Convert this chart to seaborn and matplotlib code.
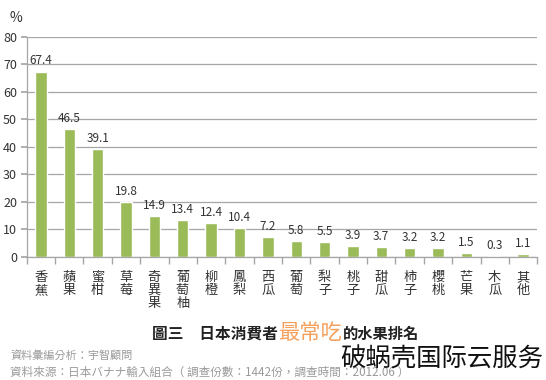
import matplotlib
matplotlib.use("Agg")
import matplotlib.pyplot as plt
import seaborn as sns
import pandas as pd
import numpy as np
from matplotlib.ticker import FixedLocator

categories = ["香蕉", "蘋果", "蜜柑", "草莓", "奇異果", "葡萄柚", "柳橙", "鳳梨", "西瓜",
              "葡萄", "梨子", "桃子", "甜瓜", "柿子", "櫻桃", "芒果", "木瓜", "其他"]
values = [67.4, 46.5, 39.1, 19.8, 14.9, 13.4, 12.4, 10.4, 7.2,
          5.8, 5.5, 3.9, 3.7, 3.2, 3.2, 1.5, 0.3, 1.1]
y_ticks = [0, 10, 20, 30, 40, 50, 60, 70, 80]

sns.set_theme(style="white")
plt.rcParams['font.family'] = ['Noto Sans CJK TC', 'DejaVu Sans']

df = pd.DataFrame({"fruit": categories, "pct": values})

fig = plt.figure(figsize=(5.46, 3.8), dpi=100)
ax = fig.add_axes([0.049, 0.324, 0.935, 0.579])

sns.barplot(data=df, x="fruit", y="pct", color="#9BBB59", width=0.4,
            saturation=1, ax=ax)

ax.set_ylim(0, 80)
ax.set_xlim(-0.5, len(categories) - 0.5)
ax.set_yticks(y_ticks)
ax.yaxis.grid(True, color="#A6A6A6", linewidth=0.9)
ax.set_axisbelow(True)
ax.set_xlabel("")
ax.set_ylabel("")

for s in ["top", "right"]:
    ax.spines[s].set_visible(False)
for s in ["left", "bottom"]:
    ax.spines[s].set_color("#A6A6A6")
    ax.spines[s].set_linewidth(0.9)

ax.tick_params(axis="y", which="major", left=True, length=4, color="#A6A6A6",
               labelsize=9, labelcolor="#333333", pad=3)
ax.set_xticks(range(len(categories)))
ax.set_xticklabels(["\n".join(c) for c in categories], fontsize=9.5,
                   color="#333333", linespacing=1.0, va="top")
ax.tick_params(axis="x", which="major", bottom=False, pad=4)
ax.xaxis.set_minor_locator(FixedLocator(np.arange(-0.5, len(categories), 1.0)))
ax.tick_params(axis="x", which="minor", bottom=True, length=5, color="#A6A6A6")

for i, v in enumerate(values):
    ax.text(i, v + 1.5, f"{v:.1f}", ha="center", va="bottom", fontsize=8.5,
            color="#333333")

fig.text(0.018, 0.97, "%", fontsize=10, color="#333333", ha="left", va="top")

# Title pieces (baseline aligned)
base = 1 - 339 / 380
fig.text(152 / 546, base, "圖三　日本消費者", fontsize=11.3, fontweight="bold",
         color="#222222", ha="left", va="baseline")
fig.text(278 / 546, base, "最常吃", fontsize=15.3,
         color="#F5A15E", ha="left", va="baseline")
fig.text(343 / 546, base, "的水果排名", fontsize=11, fontweight="bold",
         color="#222222", ha="left", va="baseline")

fig.text(10 / 546, 1 - 355 / 380, "資料彙編分析：宇智顧問", fontsize=8,
         color="#9A9A9A", ha="left", va="center")
fig.text(10 / 546, 1 - 372 / 380,
         "資料來源：日本バナナ輸入組合（ 調查份數：1442份，調查時間：2012.06 ）",
         fontsize=8.4, color="#9A9A9A", ha="left", va="center")

fig.text(340 / 546, 1 - 360 / 380, "破蜗壳国际云服务", fontsize=18.3,
         family=['Noto Sans CJK SC', 'DejaVu Sans'], color="#111111",
         ha="left", va="center")

fig.savefig("out.png", dpi=100)
